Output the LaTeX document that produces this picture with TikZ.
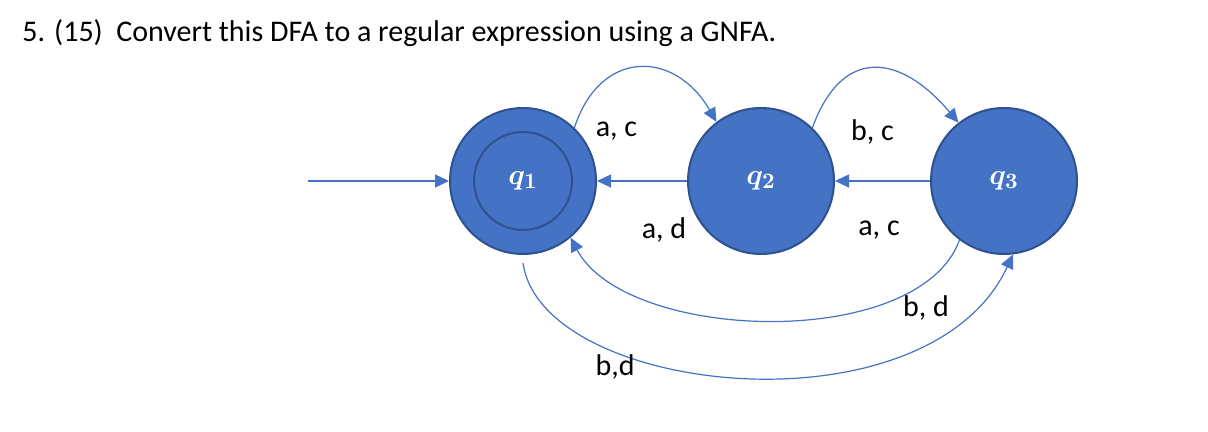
\documentclass[tikz,border=0pt]{standalone}
\usepackage{fontspec}
\setmainfont{Carlito}
\usetikzlibrary{arrows.meta,positioning}

\definecolor{officeblue}{HTML}{4472C4}
\definecolor{rimblue}{HTML}{2F528F}

\begin{document}
\begin{tikzpicture}[x=0.5pt,y=0.5pt,->,>={Triangle[length=7pt,width=6.5pt]},
                    node distance=119pt,font=\fontsize{15}{18}\selectfont,
                    every edge/.style={draw=officeblue,line width=0.6pt},
                    state/.style={circle,fill=officeblue,draw=rimblue,line width=1pt,
                                  minimum size=73pt,inner sep=0pt,text=white,font=\fontsize{15}{18}\selectfont\boldmath},
                    ring/.style={circle,draw=rimblue,line width=1pt,minimum size=49pt,inner sep=0pt}]

  \useasboundingbox (0,0) rectangle (1208,432);

  \node[anchor=base west,inner sep=0pt] (title) at (22,390)
    {5. (15)\hspace{0.45em}Convert this DFA to a regular expression using a GNFA.};

  \node[state]  (q1) at (523,251)                {$q_1$};
  \node[ring]   (q1in) at (q1)                   {};
  \node[state]  (q2) [right of=q1]               {$q_2$};
  \node[state]  (q3) [right of=q2,xshift=2.5pt]  {$q_3$};
  \coordinate   (start) at (308,251);

  \path (start) edge (q1)
  (q2) edge node[xshift=11pt,yshift=-24.5pt] {a, d} (q1)
  (q3) edge node[xshift=-1.75pt,yshift=-24.5pt] {a, c} (q2)
  (q1.46) edge[out=72,in=120,looseness=1.5] node[xshift=-11.5pt,yshift=-31.5pt] {a, c} (q2.127)
  (q2.46) edge[out=70,in=130,looseness=1.55] node[xshift=-1.5pt,yshift=-31.5pt] {b, c} (q3.128)
  (q3.233) edge[out=250,in=298,looseness=0.78] node[pos=0.18,xshift=5pt,yshift=-9.5pt] {b, d} (q1.310)
  ([yshift=-4pt]q1.south) edge[out=278,in=245,out looseness=0.7,in looseness=1.05]
    node[pos=0.3,xshift=-3pt,yshift=-6.3pt] {b,d} (q3.277)
  ;

\end{tikzpicture}
\end{document}
